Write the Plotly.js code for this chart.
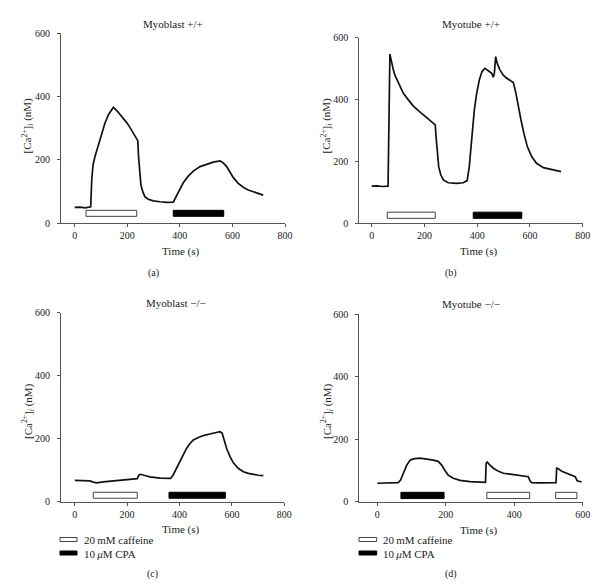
<!DOCTYPE html>
<html>
<head>
<meta charset="utf-8">
<script src="https://cdn.plot.ly/plotly-3.0.1.min.js"></script>
<style>html,body{margin:0;padding:0;background:#fff;}#chart{width:605px;height:586px;}</style>
</head>
<body>
<div id="chart"></div>
<script>
// ---- Data ----
// (a) Myoblast +/+
const timeA = [0,20,40,58,61,65,70,77,90,103,115,128,141,147,160,172,185,198,210,223,236,240,243,247,252,259,267,280,299,324,350,375,388,400,413,432,451,477,502,527,553,565,578,591,603,622,641,660,679,698,717];
const caA   = [50,51,49,50,52,140,185,210,247,284,316,342,360,366,356,345,331,318,303,286,268,261,210,158,121,100,84,76,71,68,66,67,89,110,128,149,165,179,187,193,197,191,179,163,145,126,114,105,100,95,89];
const caffeineA = [[43,236]];
const cpaA      = [[375,567]];

// (b) Myotube +/+
const timeB = [0,20,40,62,69,76,82,88,95,107,120,139,158,177,196,215,234,241,244,249,254,262,272,290,322,347,362,370,376,383,389,398,408,418,429,442,455,461,465,470,476,486,499,512,524,537,547,556,566,577,590,607,625,651,676,701,718];
const caB   = [120,121,119,120,547,517,496,479,465,442,420,399,379,364,350,336,323,318,280,226,183,156,140,131,129,131,138,183,248,312,366,420,463,490,501,493,485,472,485,539,517,496,479,469,463,455,420,377,334,291,248,215,194,180,175,169,167];
const caffeineB = [[59,241]];
const cpaB      = [[385,569]];

// (c) Myoblast -/-
const timeC = [1,33,58,71,84,109,135,160,198,230,239,245,252,268,287,326,366,376,389,402,415,427,440,453,472,491,516,542,555,563,571,580,593,605,624,644,663,682,701,720];
const caC   = [68,67,66,62,60,63,65,66,69,71,73,84,87,83,79,75,74,85,106,130,151,169,185,196,204,210,215,220,222,217,196,169,143,124,106,95,90,86,84,83];
const caffeineC = [[71,239]];
const cpaC      = [[360,575]];

// (d) Myotube -/-
const timeD = [0,27,61,68,76,86,96,105,125,144,164,178,188,198,207,222,242,271,300,316,318,321,329,339,354,368,388,407,427,441,446,451,475,505,522,524,529,539,553,568,578,584,592,597];
const caD   = [59,60,61,69,91,117,133,137,139,137,133,129,117,99,85,75,68,64,62,62,123,127,117,107,97,91,88,85,83,80,67,61,60,61,61,107,105,97,91,85,80,67,63,63];
const caffeineD = [[320,445],[521,583]];
const cpaD      = [[69,195]];

const panelTitles = ['Myoblast +/+','Myotube +/+','Myoblast \u2212/\u2212','Myotube \u2212/\u2212'];
const panelLetters = ['(a)','(b)','(c)','(d)'];
const xTicksLong = [0,200,400,600,800];
const xTicksShort = [0,200,400,600];
const yTicks = [0,200,400,600];
const legendLabels = ['20\u2009mM caffeine','10\u2009<i>\u03bc</i>M CPA'];

// ---- Layout helpers ----
const W = 605, H = 586;
const X = p => p / W;
const Y = p => 1 - p / H;
const FONT = 'Liberation Serif, Times New Roman, serif';
const TXT = '#222';
const AX = '#555';

function axisX(dom, rng, ticks, anchor){
  return {domain: dom, range: rng, anchor: anchor, tickvals: ticks, ticktext: ticks.map(String),
    showline: true, linecolor: AX, linewidth: 1, ticks: 'outside', ticklen: 3, tickcolor: AX,
    showgrid: false, zeroline: false, tickfont: {family: FONT, size: 10, color: TXT}, fixedrange: true};
}
function axisY(dom, anchor){
  return {domain: dom, range: [0,600], anchor: anchor, tickvals: yTicks, ticktext: yTicks.map(String),
    showline: true, linecolor: AX, linewidth: 1, ticks: 'outside', ticklen: 3, tickcolor: AX,
    showgrid: false, zeroline: false, tickfont: {family: FONT, size: 10, color: TXT},
    ticklabelstandoff: 5, fixedrange: true};
}

const panels = [
  {t: timeA, v: caA, caf: caffeineA, cpa: cpaA, xa: 'x',  ya: 'y',  bar: [22,41]},
  {t: timeB, v: caB, caf: caffeineB, cpa: cpaB, xa: 'x2', ya: 'y2', bar: [16,36]},
  {t: timeC, v: caC, caf: caffeineC, cpa: cpaC, xa: 'x3', ya: 'y3', bar: [11,30]},
  {t: timeD, v: caD, caf: caffeineD, cpa: cpaD, xa: 'x4', ya: 'y4', bar: [10,30]}
];

const traces = panels.map(p => ({
  x: p.t, y: p.v, xaxis: p.xa, yaxis: p.ya, type: 'scatter', mode: 'lines',
  line: {color: '#111', width: 1.7}, hoverinfo: 'skip', showlegend: false
}));

const shapes = [];
panels.forEach(p => {
  p.caf.forEach(s => shapes.push({type: 'rect', xref: p.xa, yref: p.ya, x0: s[0], x1: s[1], y0: p.bar[0], y1: p.bar[1],
    line: {color: '#444', width: 1}, fillcolor: '#fff'}));
  p.cpa.forEach(s => shapes.push({type: 'rect', xref: p.xa, yref: p.ya, x0: s[0], x1: s[1], y0: p.bar[0], y1: p.bar[1],
    line: {color: '#000', width: 1}, fillcolor: '#000'}));
});

// legend boxes for bottom panels
[[60, 77], [359, 376.7]].forEach(([l, r]) => {
  shapes.push({type: 'rect', xref: 'paper', yref: 'paper', x0: X(l), x1: X(r), y0: Y(541.5), y1: Y(537.5),
    line: {color: '#444', width: 1}, fillcolor: '#fff'});
  shapes.push({type: 'rect', xref: 'paper', yref: 'paper', x0: X(l), x1: X(r), y0: Y(555), y1: Y(551),
    line: {color: '#000', width: 1}, fillcolor: '#000'});
});

function ann(text, px, py, opts){
  return Object.assign({text: text, x: X(px), y: Y(py), xref: 'paper', yref: 'paper', showarrow: false,
    xanchor: 'center', yanchor: 'middle', font: {family: FONT, size: 11, color: TXT}}, opts || {});
}
const yTitle = '[Ca<sup>2+</sup>]<sub><i>i</i></sub> (nM)';
const annotations = [
  ann(panelTitles[0], 173, 24), ann(panelTitles[1], 471, 24),
  ann(panelTitles[2], 175.5, 303), ann(panelTitles[3], 471, 304),
  ann('Time (s)', 181, 252), ann('Time (s)', 479, 252),
  ann('Time (s)', 181, 529), ann('Time (s)', 479, 530.5),
  ann(yTitle, 27.5, 126, {textangle: -90}), ann(yTitle, 326.5, 126, {textangle: -90}),
  ann(yTitle, 27.5, 411.5, {textangle: -90}), ann(yTitle, 326.5, 411.5, {textangle: -90}),
  ann(panelLetters[0], 154, 273, {font: {family: FONT, size: 10, color: TXT}}),
  ann(panelLetters[1], 451, 273, {font: {family: FONT, size: 10, color: TXT}}),
  ann(panelLetters[2], 152, 574, {font: {family: FONT, size: 10, color: TXT}}),
  ann(panelLetters[3], 451, 574, {font: {family: FONT, size: 10, color: TXT}}),
  ann(legendLabels[0], 81.5, 540, {xanchor: 'left'}), ann(legendLabels[1], 81.5, 554, {xanchor: 'left'}),
  ann(legendLabels[0], 381, 540, {xanchor: 'left'}), ann(legendLabels[1], 381, 554, {xanchor: 'left'})
];

const layout = {
  width: W, height: H, margin: {l: 0, r: 0, t: 0, b: 0},
  paper_bgcolor: '#fff', plot_bgcolor: '#fff', showlegend: false,
  xaxis:  axisX([X(61), X(285)], [-52, 800], xTicksLong, 'y'),
  yaxis:  axisY([Y(223.3), Y(33.3)], 'x'),
  xaxis2: axisX([X(359.3), X(582.7)], [-47, 800], xTicksLong, 'y2'),
  yaxis2: axisY([Y(223.3), Y(37.7)], 'x2'),
  xaxis3: axisX([X(61), X(284.3)], [-52, 800], xTicksLong, 'y3'),
  yaxis3: axisY([Y(501.7), Y(312.7)], 'x3'),
  xaxis4: axisX([X(359.3), X(582.7)], [-52.6, 600], xTicksShort, 'y4'),
  yaxis4: axisY([Y(501.7), Y(314)], 'x4'),
  shapes: shapes, annotations: annotations
};

Plotly.newPlot('chart', traces, layout, {staticPlot: true, displayModeBar: false});
</script>
</body>
</html>
